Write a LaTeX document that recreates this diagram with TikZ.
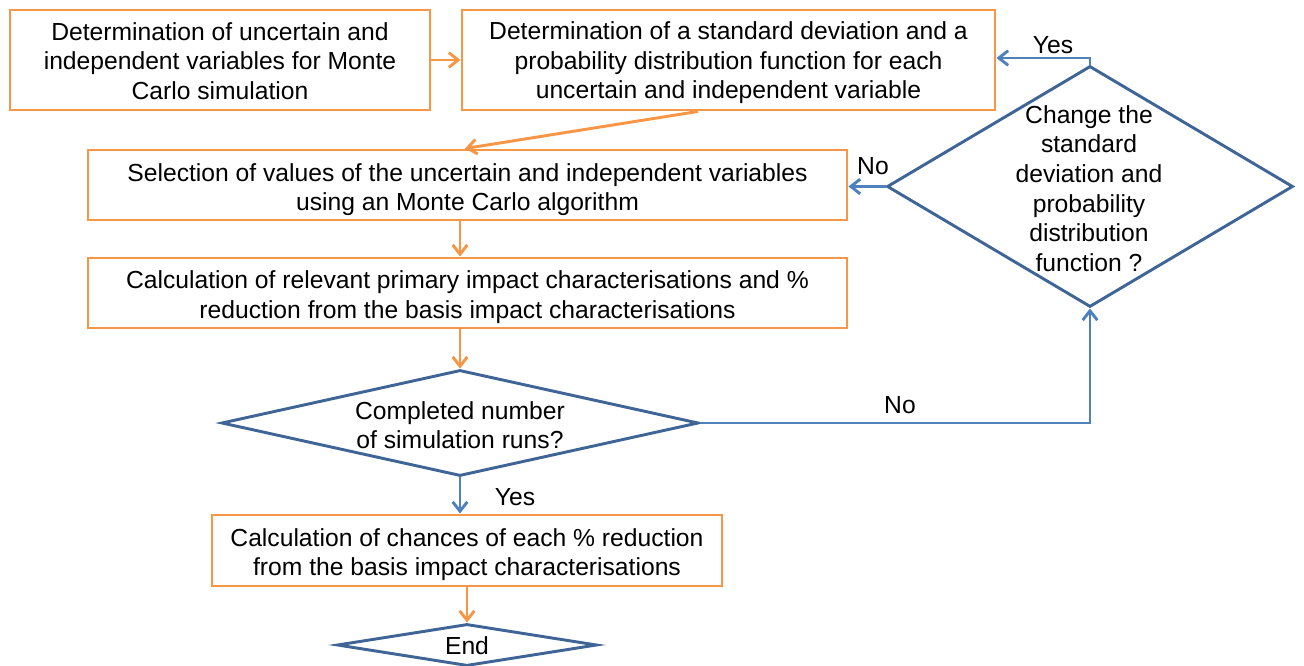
\documentclass[tikz,border=0pt]{standalone}
\usepackage{fontspec}
\setmainfont{Liberation Sans}
\usetikzlibrary{shapes.geometric,arrows.meta,calc}
\definecolor{orng}{HTML}{F79646}
\definecolor{dblue}{HTML}{3F6596}
\definecolor{ablue}{HTML}{4F81BD}
\begin{document}
\begin{tikzpicture}[x=0.75pt,y=-0.75pt,
  font=\fontsize{18.5pt}{22.2pt}\selectfont,
  box/.style={draw=orng,line width=2.2pt,rectangle,inner sep=0pt,fill=white},
  dia/.style={draw=dblue,line width=2.2pt,diamond,inner sep=0pt,fill=white},
  oarr/.style={draw=orng,line width=2.2pt,-{Straight Barb[length=7pt,width=11pt]}},
  barr/.style={draw=ablue,line width=2.2pt,-{Straight Barb[length=7pt,width=11pt]}},
  lbl/.style={inner sep=0pt},
  txt/.style={inner sep=0pt,align=center}]
\useasboundingbox (0,0) rectangle (1304,666);
% boxes
\node[box,minimum width=420*0.75pt,minimum height=100*0.75pt] (A) at (220,60) {};
\node[txt] (At) at (220,61) {Determination of uncertain and\\independent variables for Monte\\Carlo simulation};
\node[box,minimum width=533*0.75pt,minimum height=100*0.75pt] (B) at (728.5,60) {};
\node[txt] (Bt) at (728.5,63) {Determination of a standard deviation and a\\probability distribution function for each\\uncertain and independent variable};
\node[box,minimum width=759*0.75pt,minimum height=70*0.75pt] (C) at (467.5,185) {};
\node[txt] (Ct) at (467.5,189.5) {Selection of values of the uncertain and independent variables\\using an Monte Carlo algorithm};
\node[box,minimum width=759*0.75pt,minimum height=70*0.75pt] (D) at (467.5,293) {};
\node[txt] (Dt) at (467.5,297) {Calculation of relevant primary impact characterisations and \%\\reduction from the basis impact characterisations};
\node[box,minimum width=510*0.75pt,minimum height=71*0.75pt] (F) at (467,550.5) {};
\node[txt] (Ft) at (467,554.5) {Calculation of chances of each \% reduction\\from the basis impact characterisations};
% diamonds
\node[dia,minimum width=477*0.75pt,minimum height=106*0.75pt] (E) at (460,423) {};
\node[txt] (Et) at (460,425) {Completed number\\of simulation runs?};
\node[dia,minimum width=406*0.75pt,minimum height=241*0.75pt] (H) at (1090,186.5) {};
\node[txt] (Ht) at (1089,188.5) {Change the\\standard\\deviation and\\probability\\distribution\\function ?};
\node[dia,minimum width=260*0.75pt,minimum height=42*0.75pt] (G) at (467,645) {};
\node[lbl] (Gt) at (467,646) {End};
% connectors
\coordinate (Hup) at (1090,58);
\draw[oarr] (A.east) -- (B.west);
\draw[oarr] ([xshift=-22.9pt]B.south) -- ([xshift=-1.9pt]C.north);
\draw[oarr] (C.south -| E.north) -- (D.north -| E.north);
\draw[oarr] (D.south -| E.north) -- (E.north);
\draw[barr] (E.south) -- (E.south |- F.north);
\draw[oarr] (F.south -| G.north) -- (G.north);
\draw[barr] (E.east) -- (E.east -| H.south) -- (H.south);
\draw[barr] (H.north) -- (Hup) -- (Hup -| B.east);
\draw[barr] (H.west) -- (H.west -| C.east);
% labels
\node[lbl] (yes1) at (1053,45) {Yes};
\node[lbl] (no1) at (873,166) {No};
\node[lbl] (no2) at (900,405) {No};
\node[lbl] (yes2) at (515,497) {Yes};
\end{tikzpicture}
\end{document}
